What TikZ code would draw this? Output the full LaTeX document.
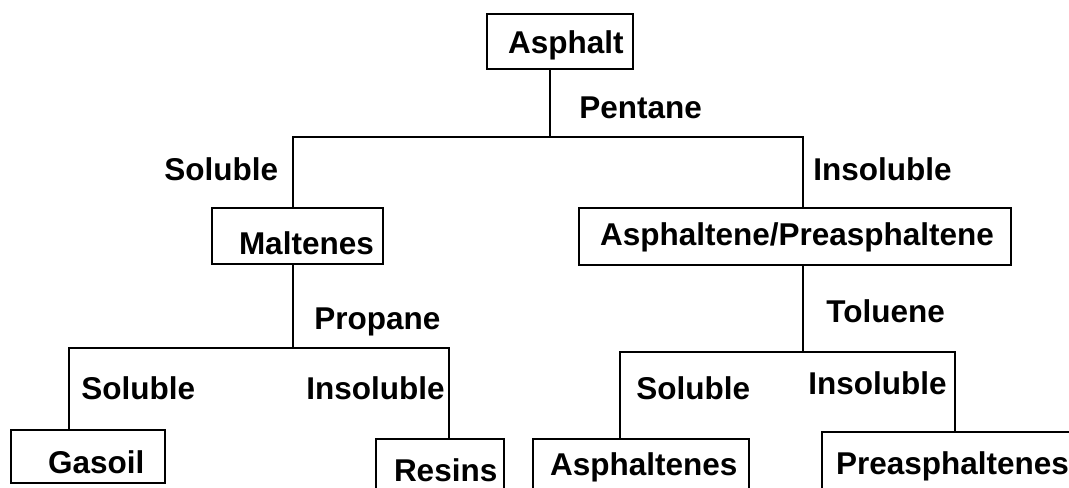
\documentclass[tikz,border=0pt]{standalone}
\usepackage{fontspec}
\setmainfont{Liberation Sans}
\newlength\pxu
\setlength\pxu{0.5pt}
\newcommand\boxtext[3]{\makebox[#1\pxu][l]{\hspace*{#2\pxu}#3}}
\begin{document}
\begin{tikzpicture}[x=0.5pt,y=-0.5pt,
  txt/.style={font=\fontsize{15.75}{19}\selectfont\bfseries},
  boxnode/.style={txt,draw,line width=1pt,inner sep=0pt,anchor=north west},
  lbl/.style={txt,inner sep=0pt,anchor=base west},
  wire/.style={line width=1pt}]
\clip (0,0) rectangle (1069,487);
\fill[white] (0,0) rectangle (1069,487);
% boxes
\node[boxnode,text height=39\pxu,text depth=16\pxu] (asphalt) at (486,13) {\boxtext{146}{21}{Asphalt}};
\node[boxnode,text height=46\pxu,text depth=10\pxu] (maltenes) at (211,207) {\boxtext{171}{27}{Maltenes}};
\node[boxnode,text height=37\pxu,text depth=20\pxu] (ap) at (578,207) {\boxtext{432}{21}{Asphaltene/Preasphaltene}};
\node[boxnode,text height=43\pxu,text depth=10\pxu] (gasoil) at (10,429) {\boxtext{154}{37}{Gasoil}};
\node[boxnode,text height=42\pxu,text depth=30\pxu] (resins) at (375,438) {\boxtext{128}{18}{Resins}};
\node[boxnode,text height=36\pxu,text depth=36\pxu] (asphaltenes) at (532,438) {\boxtext{216}{17}{Asphaltenes}};
\node[boxnode,text height=42\pxu,text depth=37\pxu] (preasph) at (821,431) {\boxtext{270}{14}{Preasphaltenes}};
% labels
\node[lbl] (pentane) at (579,118) {Pentane};
\node[lbl] (sol1) at (164,180) {Soluble};
\node[lbl] (insol1) at (813,180) {Insoluble};
\node[lbl] (propane) at (314,329) {Propane};
\node[lbl] (toluene) at (826,322) {Toluene};
\node[lbl] (sol2) at (81,399) {Soluble};
\node[lbl] (insol2) at (306,399) {Insoluble};
\node[lbl] (sol3) at (636,399) {Soluble};
\node[lbl] (insol3) at (808,394) {Insoluble};
% junction coordinates
\coordinate (j1) at (550,137);
\coordinate (j1l) at (293,137);
\coordinate (j1r) at (803,137);
\coordinate (j2) at (293,348);
\coordinate (j2l) at (69,348);
\coordinate (j2r) at (449,348);
\coordinate (j3) at (803,352);
\coordinate (j3l) at (620,352);
\coordinate (j3r) at (955,352);
% connectors
\draw[wire] (asphalt.south -| j1) -- (j1);
\draw[wire] (maltenes.north -| j1l) -- (j1l) -- (j1r) -- (ap.north -| j1r);
\draw[wire] (maltenes.south -| j2) -- (j2);
\draw[wire] (gasoil.north -| j2l) -- (j2l) -- (j2r) -- (resins.north -| j2r);
\draw[wire] (ap.south -| j3) -- (j3);
\draw[wire] (asphaltenes.north -| j3l) -- (j3l) -- (j3r) -- (preasph.north -| j3r);
\end{tikzpicture}
\end{document}
